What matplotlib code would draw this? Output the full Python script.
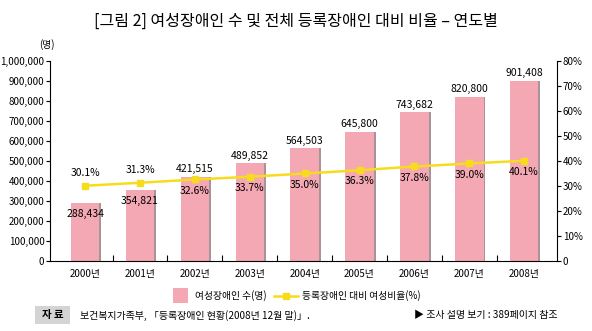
import matplotlib.pyplot as plt
import numpy as np

plt.rcParams['font.family'] = ['Noto Sans CJK KR', 'DejaVu Sans']

years = ['2000년', '2001년', '2002년', '2003년', '2004년', '2005년', '2006년', '2007년', '2008년']
women = [288434, 354821, 421515, 489852, 564503, 645800, 743682, 820800, 901408]
ratio = [30.1, 31.3, 32.6, 33.7, 35.0, 36.3, 37.8, 39.0, 40.1]

pink = '#F4A8B4'
yellow = '#F7DC1E'

fig = plt.figure(figsize=(5.92, 3.31), dpi=100)
ax = fig.add_axes([0.0845, 0.2115, 0.8565, 0.6042])
x = np.arange(len(years))
width = 0.52

# thin grey shadow on the right of each bar
ax.bar(x + 0.035, women, width, color='#A89498', zorder=1)
bars = ax.bar(x, women, width, color=pink, zorder=2)

ax.set_xlim(-0.64, 8.6)
ax.set_ylim(0, 1000000)
ax.set_yticks(np.arange(0, 1000001, 100000))
ax.set_yticklabels(['0'] + [f'{v:,}' for v in range(100000, 1000001, 100000)])
ax.set_xticks(x)
ax.set_xticklabels(years)
ax.set_xticks(np.arange(0.5, 8, 1), minor=True)
ax.tick_params(axis='x', which='major', length=0, labelsize=7, pad=6)
ax.tick_params(axis='x', which='minor', length=4, direction='in', width=0.8)
ax.tick_params(axis='y', labelsize=7, length=3, width=0.8, pad=1)
for s in ['top', 'right']:
    ax.spines[s].set_visible(False)
ax.spines['left'].set_linewidth(0.8)
ax.spines['bottom'].set_linewidth(0.8)

ax2 = ax.twinx()
ax2.set_ylim(0, 80)
ax2.set_yticks(np.arange(0, 81, 10))
ax2.set_yticklabels(['0'] + [f'{v}%' for v in range(10, 81, 10)])
ax2.tick_params(axis='y', labelsize=7, length=3, width=0.8, pad=1)
for s in ['top', 'left', 'bottom']:
    ax2.spines[s].set_visible(False)
ax2.spines['right'].set_linewidth(0.8)
ax2.plot(x, ratio, color=yellow, lw=1.8, marker='s', ms=5, mfc=yellow, mec=yellow, zorder=3)

for i in range(len(years)):
    if i < 2:
        ax.text(x[i], women[i] - 30000, f'{women[i]:,}', ha='center', va='top', fontsize=7.5)
        ax2.text(x[i], ratio[i] + 3.2, f'{ratio[i]:.1f}%', ha='center', va='bottom', fontsize=7.5)
    else:
        ax.text(x[i], women[i] + 12000, f'{women[i]:,}', ha='center', va='bottom', fontsize=7.5)
        ax2.text(x[i], ratio[i] - 2.5, f'{ratio[i]:.1f}%', ha='center', va='top', fontsize=7.5)

fig.text(0.5, 0.935, '[그림 2] 여성장애인 수 및 전체 등록장애인 대비 비율 – 연도별',
         ha='center', va='center', fontsize=11.5)
fig.text(0.08, 0.865, '(명)', ha='center', va='center', fontsize=7)

# legend
fig.patches.append(plt.Rectangle((0.292, 0.085), 0.026, 0.045, transform=fig.transFigure,
                                 facecolor=pink, edgecolor='none'))
fig.text(0.33, 0.106, '여성장애인 수(명)', ha='left', va='center', fontsize=7)
fig.lines.append(plt.Line2D([0.463, 0.503], [0.106, 0.106], transform=fig.transFigure,
                            color=yellow, lw=1.8))
fig.lines.append(plt.Line2D([0.483], [0.106], transform=fig.transFigure,
                            color=yellow, marker='s', ms=4.5))
fig.text(0.51, 0.106, '등록장애인 대비 여성비율(%)', ha='left', va='center', fontsize=7)

# source line
fig.patches.append(plt.Rectangle((0.059, 0.02), 0.059, 0.055, transform=fig.transFigure,
                                 facecolor='#D4D4D4', edgecolor='none'))
fig.text(0.0885, 0.047, '자 료', ha='center', va='center', fontsize=7.5, fontweight='bold')
fig.text(0.135, 0.047, '보건복지가족부, 「등록장애인 현황(2008년 12월 말)」.', ha='left', va='center', fontsize=7.2)
fig.text(0.942, 0.047, '▶ 조사 설명 보기 : 389페이지 참조', ha='right', va='center', fontsize=7.2,
         family=['Noto Sans CJK KR', 'DejaVu Sans'])

plt.savefig('out.png', dpi=100)
